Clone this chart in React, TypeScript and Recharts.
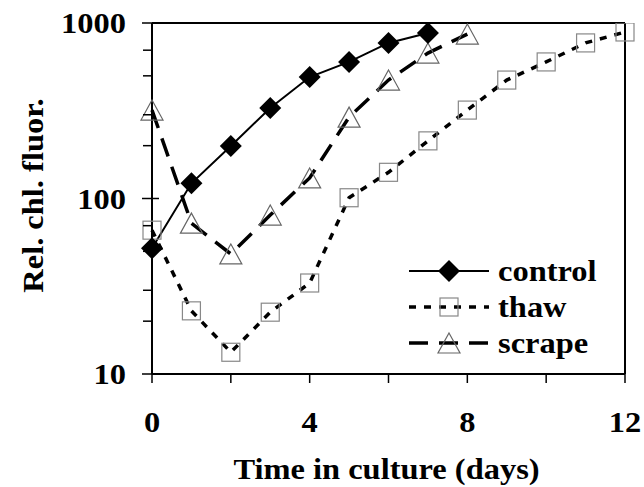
import { LineChart, Line, XAxis, YAxis, Legend, ReferenceLine } from "recharts";

const FONT = '"Liberation Serif", "Times New Roman", serif';
const STRETCH = 1.12;

const days = [0, 1, 2, 3, 4, 5, 6, 7, 8, 9, 10, 11, 12];
const control = [52, 122, 199, 328, 492, 600, 770, 877];
const thaw = [66, 22.9, 13.3, 22.5, 33, 101, 141, 213, 319, 473, 600, 770, 889];
const scrape = [319, 72.4, 48.3, 80.5, 131, 291, 473, 674, 865];

const xTicks = [0, 2, 4, 6, 8, 10, 12];
const xLabelled = [0, 4, 8, 12];
const yTicks = [10, 20, 30, 40, 50, 60, 70, 80, 90, 100, 200, 300, 400, 500, 600, 700, 800, 900, 1000];
const yLabelled = [10, 100, 1000];

const data = days.map((d, i) => ({
  day: d,
  control: control[i],
  thaw: thaw[i],
  scrape: scrape[i],
}));

const Diamond = ({ cx, cy }: any) =>
  cx == null || cy == null ? (
    <g />
  ) : (
    <polygon points={`${cx},${cy - 11} ${cx + 11},${cy} ${cx},${cy + 11} ${cx - 11},${cy}`} fill="#000" />
  );

const Square = ({ cx, cy }: any) =>
  cx == null || cy == null ? (
    <g />
  ) : (
    <rect x={cx - 9} y={cy - 9} width={18} height={18} fill="none" stroke="#888" strokeWidth={1.2} />
  );

const Triangle = ({ cx, cy }: any) =>
  cx == null || cy == null ? (
    <g />
  ) : (
    <polygon points={`${cx},${cy - 10} ${cx + 11},${cy + 10} ${cx - 11},${cy + 10}`} fill="none" stroke="#666" strokeWidth={1.2} />
  );

const series = [
  { key: "control", width: 2, dash: undefined as string | undefined, Marker: Diamond },
  { key: "thaw", width: 3.5, dash: "7 8", Marker: Square },
  { key: "scrape", width: 3.5, dash: "19 11", Marker: Triangle },
];

// stretched bold serif text, like the original figure
const Label = ({ x, y, anchor = "middle", angle = 0, children }: any) => (
  <text
    transform={`translate(${x},${y}) rotate(${angle}) scale(${STRETCH},1)`}
    textAnchor={anchor}
    fontFamily={FONT}
    fontWeight="bold"
    fontSize={29}
    fill="#000"
  >
    {children}
  </text>
);

const LegendBox = () => (
  <div style={{ fontFamily: FONT, fontWeight: "bold", fontSize: 29 }}>
    {series.map((s) => (
      <div key={s.key} style={{ display: "flex", alignItems: "center", height: 36 }}>
        <svg width={82} height={30}>
          <line x1={1} x2={81} y1={15} y2={15} stroke="#000" strokeWidth={s.width} strokeDasharray={s.dash} />
          <s.Marker cx={41} cy={15} />
        </svg>
        <span
          style={{
            marginLeft: 8,
            lineHeight: "36px",
            display: "inline-block",
            transform: `scaleX(${STRETCH})`,
            transformOrigin: "left center",
          }}
        >
          {s.key}
        </span>
      </div>
    ))}
  </div>
);

const XTick = ({ x, y, payload }: any) => (
  <g>
    {xLabelled.includes(payload.value) && (
      <Label x={x} y={y + 47}>
        {payload.value}
      </Label>
    )}
  </g>
);

const YTick = ({ x, y, payload }: any) => {
  const major = yLabelled.includes(payload.value);
  return (
    <g>
      <line x1={major ? x - 10 : x - 9} x2={major ? x + 7 : x} y1={y} y2={y} stroke="#000" strokeWidth={1.5} />
      {major && (
        <Label x={x - 26} y={y + 10} anchor="end">
          {payload.value}
        </Label>
      )}
    </g>
  );
};

const YTitle = ({ viewBox }: any) => (
  <Label x={43} y={viewBox.y + viewBox.height / 2 - 3} angle={-90}>
    Rel. chl. fluor.
  </Label>
);

const XTitle = ({ viewBox }: any) => (
  <Label x={viewBox.x + viewBox.width / 2 - 2} y={viewBox.y + 105}>
    Time in culture (days)
  </Label>
);

export default function App() {
  return (
    <div style={{ position: "absolute", left: 0, top: 0, background: "#fff" }}>
      <LineChart width={644} height={487} data={data} margin={{ top: 23, right: 19, left: 0, bottom: 53 }}>
        <XAxis
          dataKey="day"
          type="number"
          domain={[0, 12]}
          ticks={xTicks}
          tick={<XTick />}
          tickSize={9}
          tickLine={{ stroke: "#000", strokeWidth: 1.5 }}
          axisLine={{ stroke: "#000", strokeWidth: 2 }}
          height={60}
          label={<XTitle />}
        />
        <YAxis
          scale="log"
          domain={[10, 1000]}
          allowDataOverflow
          ticks={yTicks}
          tick={<YTick />}
          tickLine={false}
          tickSize={0}
          tickMargin={0}
          axisLine={{ stroke: "#000", strokeWidth: 2 }}
          width={152}
          label={<YTitle />}
        />
        <ReferenceLine y={1000} stroke="#000" strokeWidth={2} />
        <ReferenceLine x={12} stroke="#000" strokeWidth={2} />
        <Legend
          layout="vertical"
          align="center"
          verticalAlign="middle"
          content={<LegendBox />}
          wrapperStyle={{ left: 408, top: 253, width: 230 }}
        />
        <Line
          dataKey="thaw"
          stroke="#000"
          strokeWidth={3.5}
          strokeDasharray="7 8"
          dot={<Square />}
          activeDot={false}
          isAnimationActive={false}
        />
        <Line
          dataKey="scrape"
          stroke="#000"
          strokeWidth={3.5}
          strokeDasharray="19 11"
          dot={<Triangle />}
          activeDot={false}
          isAnimationActive={false}
        />
        <Line
          dataKey="control"
          stroke="#000"
          strokeWidth={2}
          dot={<Diamond />}
          activeDot={false}
          isAnimationActive={false}
        />
      </LineChart>
    </div>
  );
}
